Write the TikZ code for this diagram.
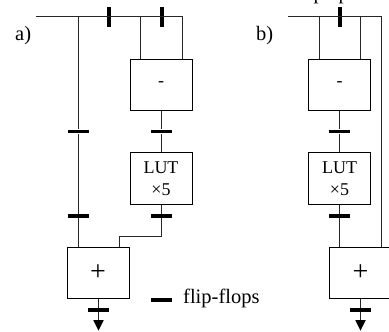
\documentclass[tikz,border=0pt]{standalone}
\usepackage{fontspec}
\setmainfont{Liberation Serif}
\usetikzlibrary{shapes.geometric}
\newcommand{\txtsize}{\fontsize{18}{22}\selectfont}
\newcommand{\lblsize}{\fontsize{20.5}{24}\selectfont}
\newcommand{\plussize}{\fontsize{28}{28}\selectfont}
\newcommand{\luttext}{\raisebox{-2pt}{LUT}\\\raisebox{-2pt}{×5}}
\tikzset{
  wire/.style={line width=1pt,draw=black!85},
  block/.style={draw=black,line width=1pt,inner sep=0pt,minimum width=62pt,minimum height=51pt,align=center,font=\txtsize},
  hff/.style={fill=black,inner sep=0pt,minimum width=21pt,minimum height=3.8pt},
  vff/.style={fill=black,inner sep=0pt,minimum width=3.8pt,minimum height=20pt},
  lbl/.style={inner sep=0pt,font=\lblsize,anchor=base west},
  tip/.style={fill=black,draw=none,isosceles triangle,isosceles triangle apex angle=55,shape border rotate=-90,inner sep=0pt,anchor=apex,isosceles triangle stretches,minimum width=10.5pt,minimum height=10.5pt}
}
\begin{document}
\begin{tikzpicture}[x=1pt,y=-1pt]
\useasboundingbox (0,0) rectangle (389,332);
% ---------- a)
\node[lbl] (la) at (15,41) {a)};
\coordinate (abus0) at (36,16.5);
\coordinate (abus1) at (78,16.5);
\coordinate (abus2) at (140.5,16.5);
\coordinate (abus3) at (182,16.5);
\node[vff] (af1) at (109,17) {};
\node[vff] (af2) at (162,17) {};
\node[block] (asub) at (161,84.5) {-};
\node[block,minimum height=51.5pt] (alut) at (161,178.5) {\luttext};
\node[block] (aadd) at (98,273) {\plussize +};
\node[hff] (af3) at (78,131.5) {};
\node[hff] (af4) at (161.5,131.5) {};
\node[hff] (af5) at (78,216) {};
\node[hff] (af6) at (161.5,216) {};
\node[hff] (af7) at (98.5,310) {};
\node[tip] (atip) at (98.5,331) {};
\coordinate (ajog1) at (161.5,236.5);
\coordinate (ajog2) at (119.5,236.5);
\draw[wire] (abus0) -- (abus3) -- (abus3 |- asub.north);
\draw[wire] (abus2) -- (abus2 |- asub.north);
\draw[wire] (abus1) -- (af3) -- (af5) -- (abus1 |- aadd.north);
\draw[wire] (af4 |- asub.south) -- (af4) -- (af4 |- alut.north);
\draw[wire] (af4 |- alut.south) -- (af6) -- (ajog1) -- (ajog2) -- (ajog2 |- aadd.north);
\draw[wire] (af7 |- aadd.south) -- (af7) -- (atip.north);
% ---------- legend
\node[hff] (lf) at (161.5,299.8) {};
\node[lbl] (lt) at (183,303) {flip-flops};
% ---------- b)
\node[lbl] (lb) at (256,41) {b)};
\node[lbl] (cutp1) at (313.3,0) {p};
\node[lbl] (cutp2) at (338.3,0) {p};
\coordinate (bbus0) at (288,16.5);
\coordinate (bbus1) at (319,16.5);
\coordinate (bbus2) at (360.7,16.5);
\coordinate (bbus3) at (381.7,16.5);
\node[vff] (bf1) at (340,17) {};
\node[block] (bsub) at (339.5,84.5) {-};
\node[block,minimum height=51.5pt] (blut) at (339.5,178.5) {\luttext};
\node[block] (badd) at (360.5,273) {\plussize +};
\node[hff] (bf3) at (339.5,131.5) {};
\node[hff] (bf4) at (339.5,216) {};
\node[hff] (bf5) at (360.5,310) {};
\node[tip] (btip) at (360.5,331) {};
\draw[wire] (bbus0) -- (bbus3) -- (bbus3 |- badd.north);
\draw[wire] (bbus1) -- (bbus1 |- bsub.north);
\draw[wire] (bbus2) -- (bbus2 |- bsub.north);
\draw[wire] (bf3 |- bsub.south) -- (bf3) -- (bf3 |- blut.north);
\draw[wire] (bf4 |- blut.south) -- (bf4) -- (bf4 |- badd.north);
\draw[wire] (bf5 |- badd.south) -- (bf5) -- (btip.north);
\end{tikzpicture}
\end{document}
